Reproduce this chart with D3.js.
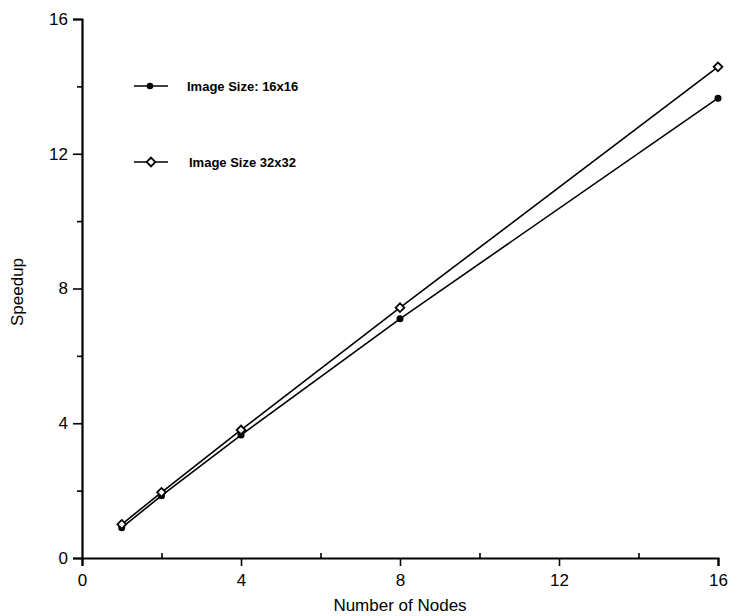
<!DOCTYPE html>
<html>
<head>
<meta charset="utf-8">
<script src="https://cdn.jsdelivr.net/npm/d3@7"></script>
<style>
  body { margin: 0; background: #fff; }
  text { font-family: "Liberation Sans", Arial, sans-serif; fill: #000; }
</style>
</head>
<body>
<div id="chart"></div>
<script>
// data
var nodes = [1, 2, 4, 8, 16];
var speedup16 = [0.9, 1.85, 3.65, 7.1, 13.65];
var speedup32 = [1.0, 1.95, 3.8, 7.43, 14.58];
var seriesNames = ["Image Size: 16x16", "Image Size 32x32"];
var majorTicks = [0, 4, 8, 12, 16];
var minorTicks = [2, 6, 10, 14];

var svgWidth = 752;
var svgHeight = 616;
var margin = { top: 19, right: 34, bottom: 58, left: 82 };
var width = svgWidth - margin.left - margin.right;
var height = svgHeight - margin.top - margin.bottom;

var svg = d3.select("#chart")
  .append("svg")
  .attr("width", svgWidth)
  .attr("height", svgHeight);

var chartGroup = svg.append("g")
  .attr("transform", `translate(${margin.left}, ${margin.top})`);

var xScale = d3.scaleLinear().domain([0, 16]).range([0, width]);
var yScale = d3.scaleLinear().domain([0, 16]).range([height, 0]);

// axes: major ticks outward, minor ticks short
chartGroup.append("g")
  .attr("transform", `translate(0, ${height})`)
  .call(d3.axisBottom(xScale).tickValues(majorTicks).tickSize(8).tickPadding(8).tickFormat(d3.format("d")));
chartGroup.append("g")
  .attr("transform", `translate(0, ${height})`)
  .call(d3.axisTop(xScale).tickValues(minorTicks).tickSize(5).tickFormat(""))
  .call(g => g.select(".domain").remove());

chartGroup.append("g")
  .call(d3.axisLeft(yScale).tickValues(majorTicks).tickSize(9).tickPadding(5).tickFormat(d3.format("d")));
chartGroup.append("g")
  .call(d3.axisLeft(yScale).tickValues(minorTicks).tickSize(5).tickFormat(""))
  .call(g => g.select(".domain").remove());

chartGroup.selectAll(".domain").attr("stroke-width", 2.2).attr("stroke", "#000");
chartGroup.selectAll(".tick line").attr("stroke-width", 1.6).attr("stroke", "#000");
chartGroup.selectAll(".tick text").attr("font-size", "17px").attr("fill", "#000");

// lines
var line = d3.line()
  .x((d, i) => xScale(nodes[i]))
  .y(d => yScale(d));

[speedup32, speedup16].forEach(function(series) {
  chartGroup.append("path")
    .datum(series)
    .attr("d", line)
    .attr("fill", "none")
    .attr("stroke", "#000")
    .attr("stroke-width", 1.6);
});

var diamond = d3.symbol().type(d3.symbolSquare).size(38);

chartGroup.selectAll(".dot16")
  .data(speedup16)
  .enter()
  .append("circle")
  .attr("cx", (d, i) => xScale(nodes[i]))
  .attr("cy", d => yScale(d))
  .attr("r", 3.5)
  .attr("fill", "#000");

chartGroup.selectAll(".dia32")
  .data(speedup32)
  .enter()
  .append("path")
  .attr("d", diamond)
  .attr("transform", (d, i) => `translate(${xScale(nodes[i])}, ${yScale(d)}) rotate(45)`)
  .attr("fill", "#fff")
  .attr("stroke", "#000")
  .attr("stroke-width", 1.8);

// legend
var legend = svg.append("g");
var legendY = [86, 162];
legend.selectAll("line")
  .data(legendY)
  .enter()
  .append("line")
  .attr("x1", 134).attr("x2", 168)
  .attr("y1", d => d).attr("y2", d => d)
  .attr("stroke", "#000")
  .attr("stroke-width", 1.4);
legend.append("circle")
  .attr("cx", 150).attr("cy", legendY[0]).attr("r", 3.3).attr("fill", "#000");
legend.append("path")
  .attr("d", diamond)
  .attr("transform", `translate(151, ${legendY[1]}) rotate(45)`)
  .attr("fill", "#fff").attr("stroke", "#000").attr("stroke-width", 1.8);
legend.selectAll("text")
  .data(seriesNames)
  .enter()
  .append("text")
  .attr("x", (d, i) => i === 0 ? 187 : 189)
  .attr("y", (d, i) => legendY[i])
  .attr("dominant-baseline", "central")
  .attr("font-size", "13px")
  .style("font-weight", "bold")
  .text(d => d);

// axis titles
svg.append("text")
  .attr("x", 400)
  .attr("y", 611)
  .attr("text-anchor", "middle")
  .attr("font-size", "17px")
  .text("Number of Nodes");

svg.append("text")
  .attr("transform", "translate(23, 292) rotate(-90)")
  .attr("text-anchor", "middle")
  .attr("font-size", "17px")
  .text("Speedup");
</script>
</body>
</html>
